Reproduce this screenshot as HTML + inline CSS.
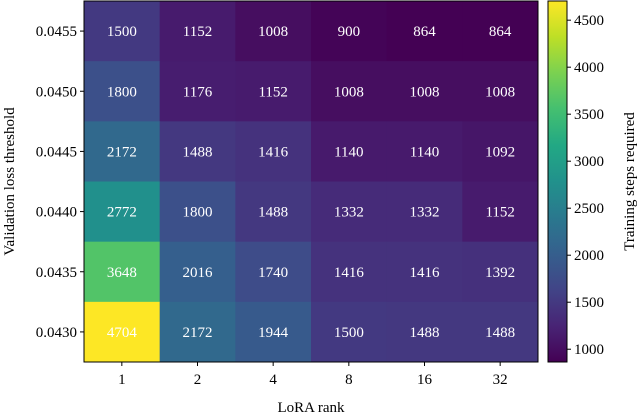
<!DOCTYPE html>
<html><head><meta charset="utf-8"><style>
html,body{margin:0;padding:0;background:#fff;}
svg{display:block;font-family:"Liberation Serif",serif;}
</style></head><body>
<svg id="chart" width="640" height="417" viewBox="0 0 640 417"></svg>
<script>
const xCategories=["1","2","4","8","16","32"];
const yCategories=["0.0455","0.0450","0.0445","0.0440","0.0435","0.0430"];
const row0455=[1500,1152,1008,900,864,864];
const row0450=[1800,1176,1152,1008,1008,1008];
const row0445=[2172,1488,1416,1140,1140,1092];
const row0440=[2772,1800,1488,1332,1332,1152];
const row0435=[3648,2016,1740,1416,1416,1392];
const row0430=[4704,2172,1944,1500,1488,1488];
const values=[row0455,row0450,row0445,row0440,row0435,row0430];
const cbTicks=[1000,1500,2000,2500,3000,3500,4000,4500];

const NS="http://www.w3.org/2000/svg";
const svg=document.getElementById('chart');
function mk(tag,attrs,parent){const e=document.createElementNS(NS,tag);for(const k in attrs)e.setAttribute(k,attrs[k]);(parent||svg).appendChild(e);return e;}
const vir=[[68,1,84],[72,36,117],[65,68,135],[53,95,141],[42,120,142],[33,145,140],[34,168,132],[68,191,112],[122,209,81],[189,223,38],[253,231,37]];
function viridis(t){t=Math.max(0,Math.min(1,t));const p=t*(vir.length-1);const i=Math.min(Math.floor(p),vir.length-2);const f=p-i;const a=vir[i],b=vir[i+1];return `rgb(${a.map((v,k)=>Math.round(v+(b[k]-v)*f)).join(',')})`;}
const all=values.flat();const vmin=Math.min(...all),vmax=Math.max(...all);
const L=84,R=538,T=1,B=362;
const cw=(R-L)/xCategories.length,ch=(B-T)/yCategories.length;
const xPos=i=>L+i*cw, yPos=j=>T+j*ch;
values.forEach((row,j)=>row.forEach((v,i)=>{
  const r=mk('rect',{x:xPos(i),y:yPos(j),width:cw+0.5,height:ch+0.5,fill:viridis((v-vmin)/(vmax-vmin))});
  
  
  const t=mk('text',{x:xPos(i)+cw/2,y:yPos(j)+ch/2+5,'text-anchor':'middle','font-size':'15',fill:'#fff'});
  t.textContent=v;
  
  
}));
mk('rect',{x:L,y:T,width:R-L,height:B-T,fill:'none',stroke:'#000','stroke-width':1});
xCategories.forEach((c,i)=>{const x=xPos(i)+cw/2;mk('line',{x1:x,x2:x,y1:B,y2:B+4,stroke:'#000'});
  const t=mk('text',{x:x,y:384,'text-anchor':'middle','font-size':'15'});t.textContent=c;
  
  });
yCategories.forEach((c,j)=>{const y=yPos(j)+ch/2;mk('line',{x1:L-4,x2:L,y1:y,y2:y,stroke:'#000'});
  const t=mk('text',{x:L-7,y:y+5,'text-anchor':'end','font-size':'15'});t.textContent=c;
  
  });
const xl=mk('text',{x:(L+R)/2,y:412,'text-anchor':'middle','font-size':'15'});xl.textContent='LoRA rank';


const yl=mk('text',{x:0,y:0,'text-anchor':'middle','font-size':'15',transform:`translate(14,${(T+B)/2}) rotate(-90)`});yl.textContent='Validation loss threshold';


const CL=548,CR=567;
const cy=v=>B-(v-vmin)/(vmax-vmin)*(B-T);
const defs=mk('defs',{});const g=mk('linearGradient',{id:'cg',x1:0,y1:1,x2:0,y2:0},defs);
for(let k=0;k<=20;k++)mk('stop',{offset:k/20,'stop-color':viridis(k/20)},g);
const cb=mk('rect',{x:CL,y:T,width:CR-CL,height:B-T,fill:'url(#cg)',stroke:'#000','stroke-width':1});


cbTicks.forEach(v=>{const y=cy(v);mk('line',{x1:CR,x2:CR+4,y1:y,y2:y,stroke:'#000'});
  const t=mk('text',{x:CR+7,y:y+5,'font-size':'15'});t.textContent=v;
  
  });
const cl=mk('text',{x:0,y:0,'text-anchor':'middle','font-size':'15',transform:`translate(634,${(T+B)/2}) rotate(-90)`});cl.textContent='Training steps required';


</script>
</body></html>
